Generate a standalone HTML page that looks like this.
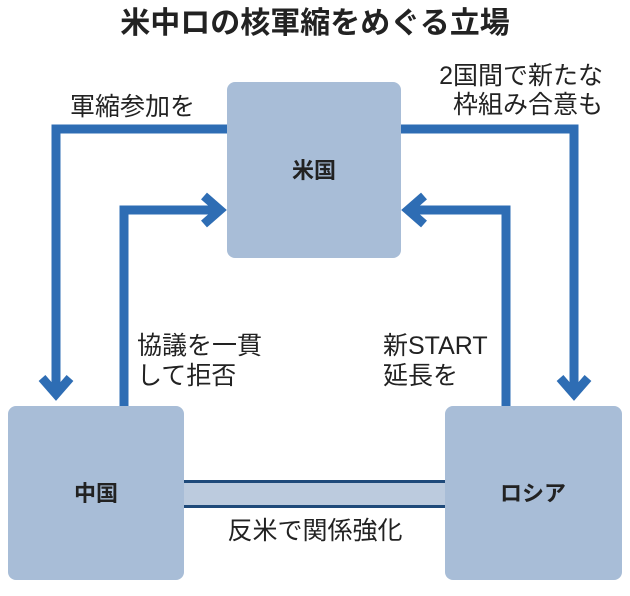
<!DOCTYPE html>
<html><head><meta charset="utf-8"><style>
body{margin:0;background:#fff;}
svg text{font-family:"Liberation Sans","Noto Sans CJK JP",sans-serif;fill:#222;}
</style></head><body>
<svg width="630" height="591" viewBox="0 0 630 591" xmlns="http://www.w3.org/2000/svg">
<text x="315" y="33" font-size="30" font-weight="bold" text-anchor="middle">米中ロの核軍縮をめぐる立場</text>
<rect x="227" y="82" width="174" height="176" rx="8" fill="#a8bdd7"/>
<rect x="8" y="406" width="176" height="174" rx="8" fill="#a8bdd7"/>
<rect x="445" y="406" width="177" height="174" rx="8" fill="#a8bdd7"/>
<rect x="184" y="482" width="261" height="25" fill="#bccbde"/>
<rect x="184" y="480" width="261" height="3" fill="#1f4a7a"/>
<rect x="184" y="505" width="261" height="3" fill="#1f4a7a"/>
<g fill="none" stroke="#2e6db4" stroke-width="9">
<polyline points="227,129 56,129 56,393"/>
<polyline points="42,378 56,394 70,378"/>
<polyline points="124,406 124,210 218,210"/>
<polyline points="204,196 220,210 204,224"/>
<polyline points="401,129 574,129 574,393"/>
<polyline points="560,378 574,394 588,378"/>
<polyline points="506,406 506,210 410,210"/>
<polyline points="424,196 408,210 424,224"/>
</g>
<g font-size="25">
<text x="70" y="115">軍縮参加を</text>
<text x="603" y="84" text-anchor="end">2国間で新たな</text>
<text x="603" y="113" text-anchor="end">枠組み合意も</text>
<text x="137" y="354">協議を一貫</text>
<text x="137" y="384">して拒否</text>
<text x="383" y="354">新START</text>
<text x="383" y="384">延長を</text>
<text x="315" y="539" text-anchor="middle">反米で関係強化</text>
</g>
<g font-size="22" font-weight="bold" text-anchor="middle">
<text x="314" y="178">米国</text>
<text x="96" y="501">中国</text>
<text x="533" y="501">ロシア</text>
</g>
</svg>
</body></html>
